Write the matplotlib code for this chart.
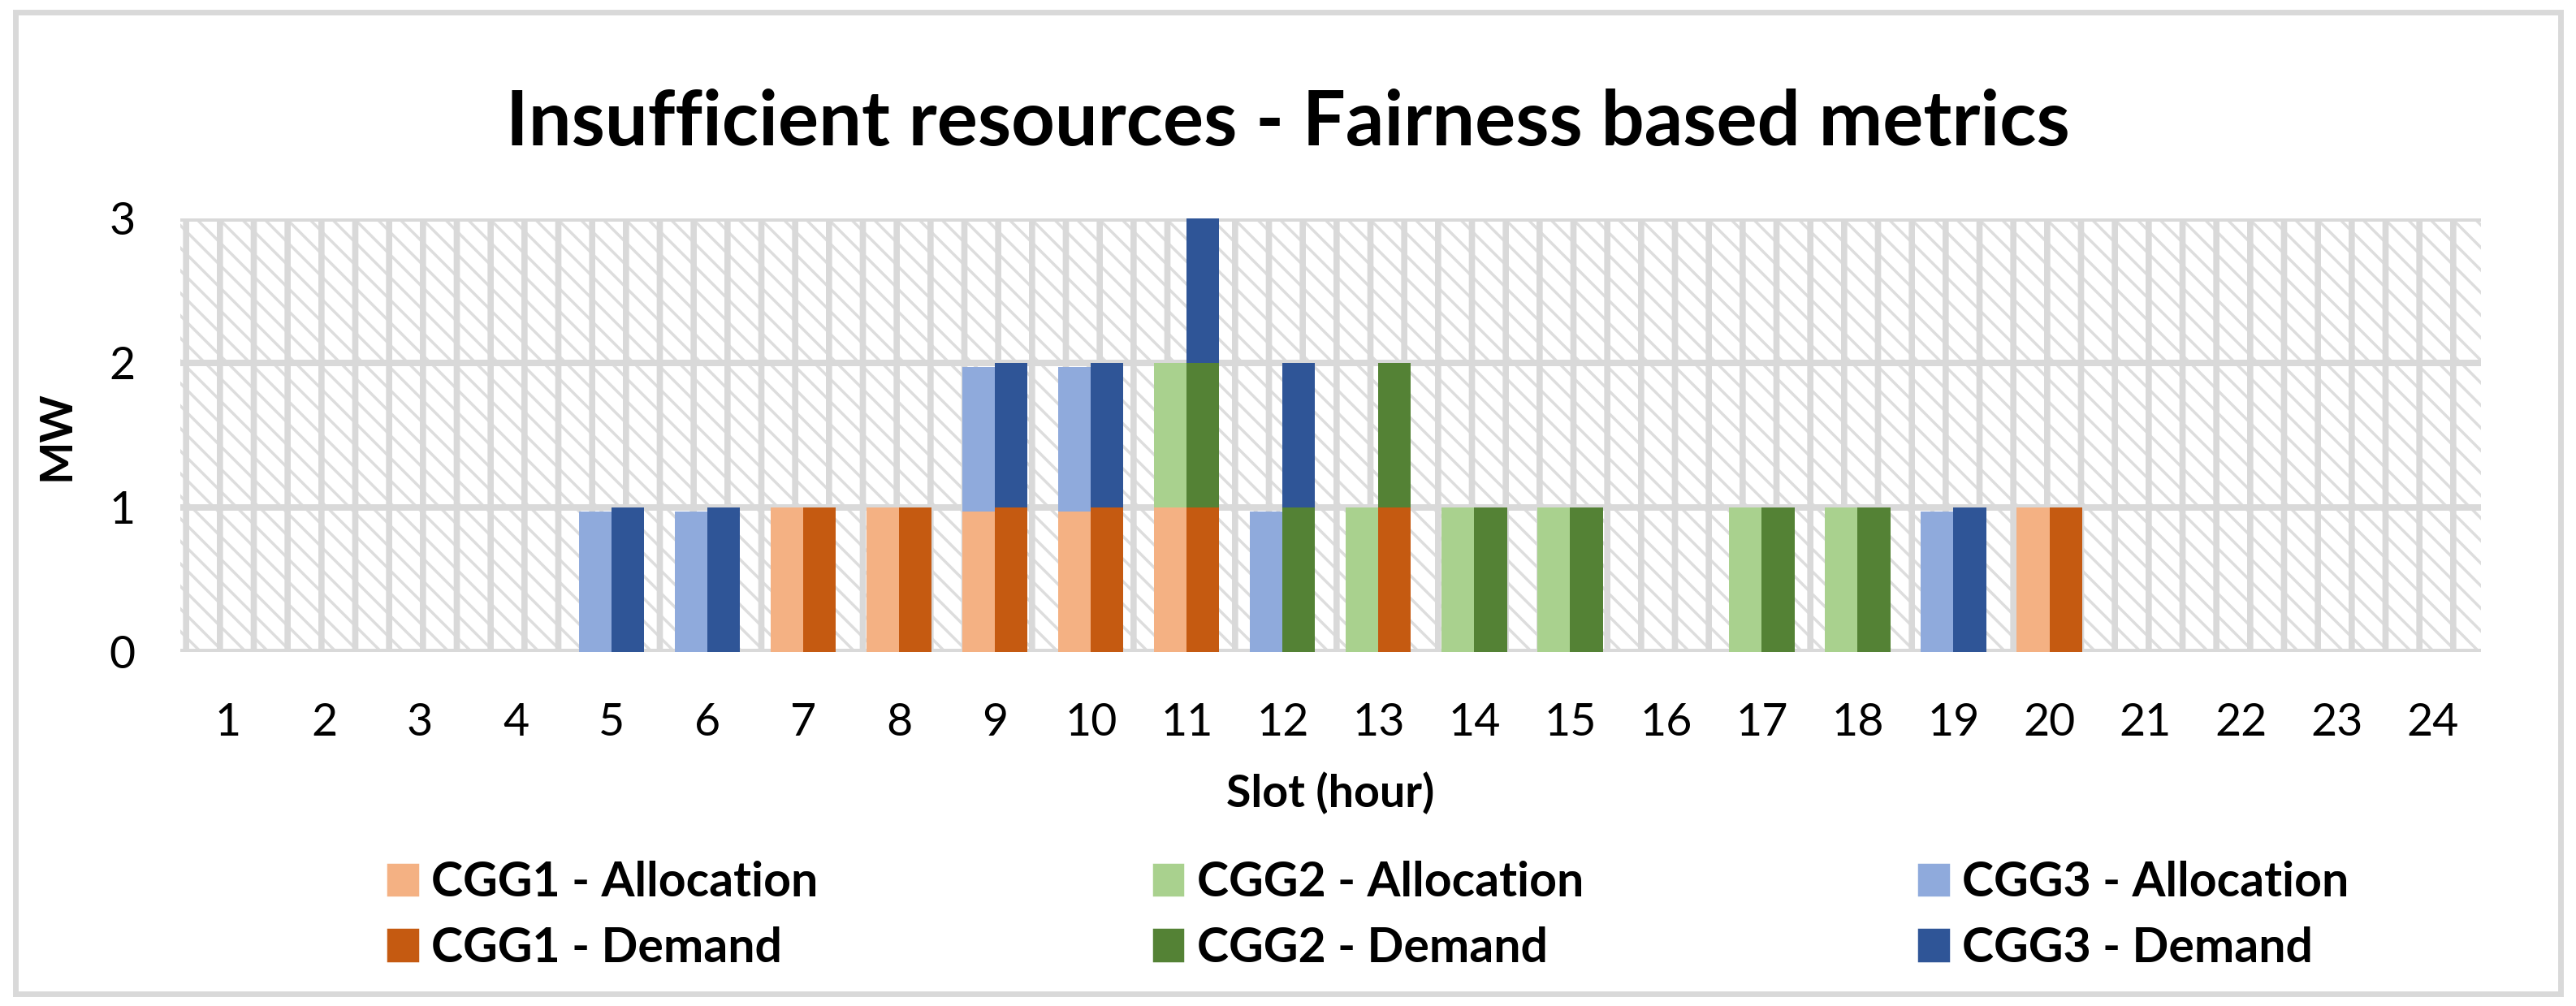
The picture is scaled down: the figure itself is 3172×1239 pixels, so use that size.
import matplotlib
matplotlib.use("Agg")
import matplotlib.pyplot as plt
from matplotlib.patches import Rectangle, Patch
import numpy as np

plt.rcParams['font.family'] = ['Lato', 'DejaVu Sans']

slots = list(range(1, 25))
# allocation per slot (MW)
alloc_cgg1 = [0, 0, 0, 0, 0, 0, 1, 1, 0.97, 0.97, 1, 0, 0, 0, 0, 0, 0, 0, 0, 1, 0, 0, 0, 0]
alloc_cgg2 = [0, 0, 0, 0, 0, 0, 0, 0, 0, 0, 1, 0, 1, 1, 1, 0, 1, 1, 0, 0, 0, 0, 0, 0]
alloc_cgg3 = [0, 0, 0, 0, 0.97, 0.97, 0, 0, 1, 1, 0, 0.97, 0, 0, 0, 0, 0, 0, 0.97, 0, 0, 0, 0, 0]
# demand per slot (MW)
demand_cgg1 = [0, 0, 0, 0, 0, 0, 1, 1, 1, 1, 1, 0, 1, 0, 0, 0, 0, 0, 0, 1, 0, 0, 0, 0]
demand_cgg2 = [0, 0, 0, 0, 0, 0, 0, 0, 0, 0, 1, 1, 1, 1, 1, 0, 1, 1, 0, 0, 0, 0, 0, 0]
demand_cgg3 = [0, 0, 0, 0, 1, 1, 0, 0, 1, 1, 1, 1, 0, 0, 0, 0, 0, 0, 1, 0, 0, 0, 0, 0]

c_a1, c_d1 = "#F4B183", "#C55A11"
c_a2, c_d2 = "#A9D18E", "#548235"
c_a3, c_d3 = "#8FAADC", "#2F5597"
grid_col = "#D9D9D9"

fig = plt.figure(figsize=(3172 / 250, 1239 / 250), dpi=250)
ax = fig.add_axes([0.070, 0.352, 0.893, 0.431])

x = np.array(slots)
w = 0.34
xa = x - w / 2
xd = x + w / 2

a1 = np.array(alloc_cgg1)
a2 = np.array(alloc_cgg2)
a3 = np.array(alloc_cgg3)
d1 = np.array(demand_cgg1)
d2 = np.array(demand_cgg2)
d3 = np.array(demand_cgg3)

ax.bar(xa, a1, w, color=c_a1, zorder=3)
ax.bar(xa, a2, w, bottom=a1, color=c_a2, zorder=3)
ax.bar(xa, a3, w, bottom=a1 + a2, color=c_a3, zorder=3)
ax.bar(xd, d1, w, color=c_d1, zorder=3)
ax.bar(xd, d2, w, bottom=d1, color=c_d2, zorder=3)
ax.bar(xd, d3, w, bottom=d1 + d2, color=c_d3, zorder=3)

# patterned plot area
vert = Rectangle((0, 0), 1, 1, transform=ax.transAxes, facecolor="none",
                 edgecolor=grid_col, hatch="|", linewidth=0, zorder=0.5)
diag = Rectangle((0, 0), 1, 1, transform=ax.transAxes, facecolor="none",
                 edgecolor="#DDDDDD", hatch="\\\\\\", linewidth=0, zorder=0.4)
if hasattr(vert, "set_hatch_linewidth"):
    vert.set_hatch_linewidth(2.2)
    diag.set_hatch_linewidth(1.0)
else:
    plt.rcParams['hatch.linewidth'] = 2.0
ax.add_patch(diag)
ax.add_patch(vert)

ax.set_xlim(0.5, 24.5)
ax.set_ylim(0, 3)
ax.set_yticks([0, 1, 2, 3])
ax.set_xticks(slots)
ax.yaxis.grid(True, color=grid_col, linewidth=2.3, zorder=1)
ax.set_axisbelow(True)
for s in ax.spines.values():
    s.set_visible(False)
ax.tick_params(length=0, labelsize=16, colors="black")
ax.tick_params(axis="x", pad=18)
ax.tick_params(axis="y", pad=16)

ax.set_xlabel("Slot (hour)", fontsize=16, fontweight="bold", labelpad=10)
fig.text(0.022, 0.567, "MW", rotation=90, ha="center", va="center",
         fontsize=16, fontweight="bold")

fig.text(0.5, 0.877, "Insufficient resources - Fairness based metrics",
         ha="center", va="center", fontsize=27, fontweight="bold")

handles = [Patch(color=c_a1), Patch(color=c_d1), Patch(color=c_a2),
           Patch(color=c_d2), Patch(color=c_a3), Patch(color=c_d3)]
labels = ["CGG1 - Allocation", "CGG1 - Demand", "CGG2 - Allocation",
          "CGG2 - Demand", "CGG3 - Allocation", "CGG3 - Demand"]
fig.legend(handles, labels, ncol=3, loc="center left", bbox_to_anchor=(0.134, 0.09),
           frameon=False, prop={"size": 17, "weight": "bold"},
           handlelength=0.6, handleheight=0.6, handletextpad=0.3,
           columnspacing=7.0, labelspacing=0.45)

# chart border
fig.patches.append(Rectangle((0.006, 0.012), 0.988, 0.976, transform=fig.transFigure,
                             facecolor="none", edgecolor=grid_col, linewidth=2.0))

fig.savefig("out.png", dpi=250)
